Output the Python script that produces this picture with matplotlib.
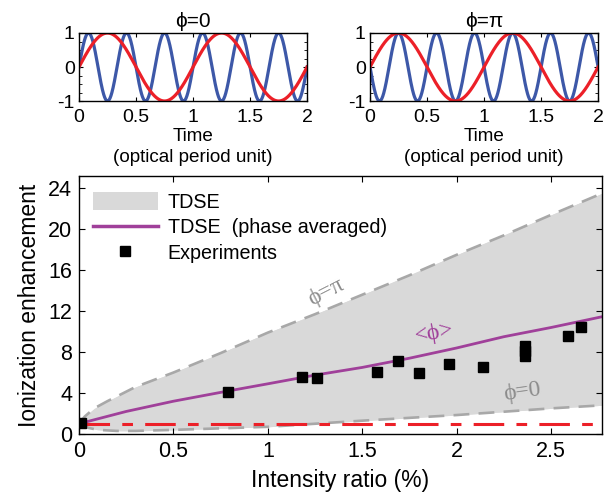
import matplotlib
matplotlib.use('Agg')
import matplotlib.pyplot as plt
from matplotlib.patches import Patch
from matplotlib.lines import Line2D
import numpy as np

plt.rcParams['font.family'] = ['Liberation Sans', 'DejaVu Sans']
plt.rcParams['axes.linewidth'] = 1.0

# ---- top panels: field waveforms (fundamental + third harmonic)
phases = [0, np.pi]
titles = ['\u03d5=0', '\u03d5=\u03c0']
red_cycles = 1      # fundamental, cycles per optical period
blue_cycles = 3     # third harmonic
top_xticks = [0, 0.5, 1, 1.5, 2]
top_xlabels = ['0', '0.5', '1', '1.5', '2']
top_yticks = [-1, 0, 1]
top_ylabels = ['-1', '0', '1']

# ---- main panel data
upper_x = [0, 0.03, 0.08, 0.15, 0.3, 0.5, 0.75, 1.0, 1.25, 1.5, 1.75, 2.0, 2.25, 2.5, 2.77]
upper_y = [1.0, 1.7, 2.5, 3.2, 4.6, 6.0, 7.9, 9.9, 11.7, 13.6, 15.5, 17.5, 19.4, 21.4, 23.5]
lower_x = [0, 0.05, 0.1, 0.2, 0.3, 0.5, 0.75, 1.0, 1.25, 1.5, 2.0, 2.5, 2.77]
lower_y = [1.0, 0.6, 0.4, 0.3, 0.3, 0.4, 0.55, 0.7, 1.0, 1.3, 1.85, 2.5, 2.8]
avg_x = [0, 0.25, 0.5, 0.79, 1.0, 1.25, 1.5, 1.75, 2.0, 2.25, 2.5, 2.77]
avg_y = [1.0, 2.2, 3.2, 4.2, 4.9, 5.75, 6.5, 7.4, 8.4, 9.5, 10.4, 11.45]
exp_x = [0.01, 0.79, 1.18, 1.26, 1.58, 1.69, 1.80, 1.96, 2.14, 2.36, 2.36, 2.36, 2.59, 2.66]
exp_y = [1.1, 4.13, 5.6, 5.5, 6.1, 7.15, 6.0, 6.85, 6.5, 8.6, 8.1, 7.6, 9.6, 10.45]
ref_level = 1.0
main_xticks = [0, 0.5, 1, 1.5, 2, 2.5]
main_xlabels = ['0', '0.5', '1', '1.5', '2', '2.5']
main_yticks = [0, 4, 8, 12, 16, 20, 24]

blue = '#3d58a8'
red = '#ec2028'
purple = '#a0409a'
fill_gray = '#d9d9d9'
dash_gray = '#a8a8a8'

fig = plt.figure(figsize=(6.05, 4.94), dpi=100)

t = np.linspace(0, 2, 1000)
for i, (ph, ttl) in enumerate(zip(phases, titles)):
    left = [0.1306, 0.6116][i]
    ax = fig.add_axes([left, 0.7955, 0.377, 0.1377])
    ax.plot(t, np.sin(2 * np.pi * blue_cycles * t + ph), color=blue, lw=2.3)
    ax.plot(t, np.sin(2 * np.pi * red_cycles * t), color=red, lw=2.3)
    ax.set_xlim(0, 2)
    ax.set_ylim(-1, 1)
    ax.set_xticks(top_xticks)
    ax.set_xticklabels(top_xlabels, fontsize=14)
    ax.set_yticks(top_yticks)
    ax.set_yticklabels(top_ylabels, fontsize=14)
    ax.set_yticks(np.arange(-1, 1.01, 0.25), minor=True)
    ax.tick_params(direction='in', which='both', right=True, top=True)
    ax.tick_params(axis='x', pad=6)
    ax.tick_params(axis='y', pad=3)
    ax.tick_params(which='major', length=3)
    ax.tick_params(which='minor', length=2)
    ax.set_title(ttl, fontsize=15, pad=4)
    ax.set_xlabel('Time\n(optical period unit)', fontsize=13.6, labelpad=1, linespacing=1.3)

ax = fig.add_axes([0.1306, 0.1215, 0.8645, 0.5223])
ax.fill_between(upper_x, np.interp(upper_x, lower_x, lower_y), upper_y, color=fill_gray, lw=0)
ax.fill_between(lower_x, lower_y, np.interp(lower_x, upper_x, upper_y), color=fill_gray, lw=0)
ax.plot(upper_x, upper_y, color=dash_gray, lw=1.9, linestyle=(0, (6, 3.5)))
ax.plot(lower_x, lower_y, color=dash_gray, lw=1.9, linestyle=(0, (6, 3.5)))
ax.axhline(ref_level, color=red, lw=2.2, linestyle=(0, (10, 4, 3.5, 4)))
ax.plot(avg_x, avg_y, color=purple, lw=2)
ax.plot(exp_x, exp_y, 's', color='black', ms=7)

ax.set_xlim(0, 2.77)
ax.set_ylim(0, 25.2)
ax.set_xticks(main_xticks)
ax.set_xticklabels(main_xlabels, fontsize=15.5)
ax.set_yticks(main_yticks)
ax.set_yticklabels([str(v) for v in main_yticks], fontsize=15.5)
ax.tick_params(direction='in', right=True, top=True, length=4, pad=5)
ax.set_xlabel('Intensity ratio (%)', fontsize=16.5, labelpad=5)
ax.set_ylabel('Ionization enhancement', fontsize=16.5, labelpad=5)

serif = ['Liberation Serif', 'DejaVu Serif']
ax.text(1.31, 13.9, '\u03d5=\u03c0', color='#8c8c8c', fontsize=17, family=serif,
        rotation=27, ha='center', va='center')
ax.text(1.88, 9.8, '<\u03d5>', color=purple, fontsize=17, family=serif,
        rotation=10, ha='center', va='center')
ax.text(2.35, 4.1, '\u03d5=0', color='#8c8c8c', fontsize=17, family=serif,
        rotation=8, ha='center', va='center')

handles = [Patch(facecolor=fill_gray, edgecolor='none'),
           Line2D([], [], color=purple, lw=2.5),
           Line2D([], [], marker='s', color='black', ls='none', ms=7)]
labels = ['TDSE', 'TDSE  (phase averaged)', 'Experiments']
ax.legend(handles, labels, loc='upper left', frameon=False, fontsize=14.2,
          handlelength=3.3, handleheight=1.0, labelspacing=0.3, handletextpad=0.5,
          bbox_to_anchor=(0.0, 0.99), borderaxespad=0.3)

fig.savefig('out.png', dpi=100)
